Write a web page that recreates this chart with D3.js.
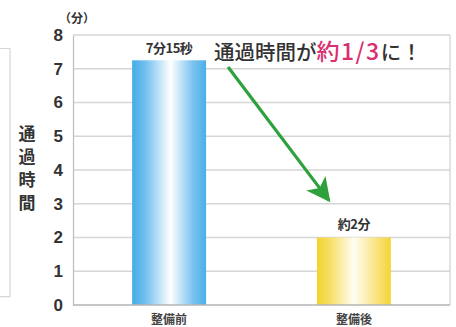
<!DOCTYPE html>
<html>
<head>
<meta charset="utf-8">
<script src="https://cdn.jsdelivr.net/npm/d3@7"></script>
<style>
  html, body { margin: 0; padding: 0; background: #fff; }
  svg { display: block; font-family: "Noto Sans CJK JP", "Noto Sans", sans-serif; }
</style>
</head>
<body>
<svg id="chart" width="456" height="327"></svg>
<script>
// Passage time before / after the improvement work (minutes)
const categories = ["整備前", "整備後"];
const values = [7.25, 2];
const valueLabels = ["7分15秒", "約2分"];
const yTicks = [0, 1, 2, 3, 4, 5, 6, 7, 8];
const yTitle = "通過時間";
const unitLabel = "（分）";
const headline = [
  { text: "通過時間が", color: "#333" },
  { text: "約1/3", color: "#d9306f" },
  { text: "に！", color: "#333" }
];

const svg = d3.select("#chart");
const m = { left: 73, right: 6, top: 35, bottom: 22 };
const W = 456, H = 327;

const x = d3.scaleBand().domain(categories)
  .range([m.left, W - m.right]).paddingInner(0.6).paddingOuter(0.32);
const y = d3.scaleLinear().domain([0, 8]).range([H - m.bottom, m.top]);

// gradients for the two bars
const defs = svg.append("defs");
const grads = [
  { id: "gBlue", stops: [["0%", "#45abe8"], ["18%", "#72c0ef"], ["52%", "#ffffff"], ["82%", "#7cc3f0"], ["100%", "#4aaee8"]] },
  { id: "gYellow", stops: [["0%", "#f4d32e"], ["18%", "#f7df66"], ["50%", "#fffdf2"], ["82%", "#f8e27a"], ["100%", "#f4d435"]] }
];
grads.forEach(g => {
  const lg = defs.append("linearGradient").attr("id", g.id)
    .attr("x1", "0%").attr("x2", "100%").attr("y1", "0%").attr("y2", "0%");
  g.stops.forEach(s => lg.append("stop").attr("offset", s[0]).attr("stop-color", s[1]));
});
const arrowMarker = defs.append("marker").attr("id", "arrowHead")
  .attr("viewBox", "0 0 10 10").attr("refX", 9).attr("refY", 5)
  .attr("markerUnits", "userSpaceOnUse")
  .attr("markerWidth", 28).attr("markerHeight", 24).attr("orient", "auto");
arrowMarker.append("path").attr("d", "M0,0 L10,5 L0,10 L2.5,5 Z").attr("fill", "#2ea03c");

// faint frame of a neighbouring panel on the left edge
svg.append("path")
  .attr("d", `M0,${y(7.6)} H10 V${y(0.25)} H0`)
  .attr("fill", "none").attr("stroke", "#d6d6d6").attr("stroke-width", 1.2);

// gridlines
svg.append("g").selectAll("line").data(yTicks.filter(d => d > 0)).join("line")
  .attr("x1", m.left).attr("x2", W - m.right)
  .attr("y1", d => y(d)).attr("y2", d => y(d))
  .attr("stroke", "#d6d6d6").attr("stroke-width", 1.5);

// right border
svg.append("line")
  .attr("x1", W - m.right).attr("x2", W - m.right)
  .attr("y1", y(8)).attr("y2", y(0))
  .attr("stroke", "#d0d0d0").attr("stroke-width", 1.2);

// y axis
const yAxis = svg.append("g").attr("transform", `translate(${m.left},0)`)
  .call(d3.axisLeft(y).tickValues(yTicks).tickSize(0).tickPadding(10));
yAxis.select(".domain").attr("stroke", "#bdbdbd").attr("stroke-width", 1.2);
yAxis.selectAll("text")
  .attr("font-size", 17).attr("font-weight", 700).attr("fill", "#333")
  .attr("font-family", "Liberation Sans, Arial, sans-serif");

// bars
svg.append("g").selectAll("rect").data(categories).join("rect")
  .attr("x", d => x(d)).attr("width", x.bandwidth())
  .attr("y", (d, i) => y(values[i]))
  .attr("height", (d, i) => y(0) - y(values[i]))
  .attr("fill", (d, i) => `url(#${grads[i].id})`);

// baseline
svg.append("line")
  .attr("x1", m.left).attr("x2", W - m.right)
  .attr("y1", y(0)).attr("y2", y(0))
  .attr("stroke", "#b5b5b5").attr("stroke-width", 1.4);

// x axis labels
svg.append("g").selectAll("text").data(categories).join("text")
  .attr("x", d => x(d) + x.bandwidth() / 2).attr("y", H - 3)
  .attr("text-anchor", "middle").attr("font-size", 12).attr("font-weight", 700)
  .attr("fill", "#444").text(d => d);

// value labels
svg.append("g").selectAll("text").data(categories).join("text")
  .attr("x", d => x(d) + x.bandwidth() / 2)
  .attr("y", (d, i) => y(values[i]) - (i === 0 ? 7 : 9))
  .attr("text-anchor", "middle").attr("font-size", 13).attr("font-weight", 700)
  .attr("fill", "#333").attr("letter-spacing", -0.5)
  .text((d, i) => valueLabels[i]);

// unit label
svg.append("text").attr("x", 59).attr("y", 23)
  .attr("font-size", 12).attr("font-weight", 700).attr("fill", "#333")
  .text(unitLabel);

// y axis title, vertical
svg.append("g").selectAll("text").data(Array.from(yTitle)).join("text")
  .attr("x", 27).attr("y", (d, i) => 140 + i * 23)
  .attr("text-anchor", "middle").attr("font-size", 17).attr("font-weight", 700)
  .attr("fill", "#333").text(d => d);

// headline
const hl = svg.append("text").attr("x", 214).attr("y", 60)
  .attr("font-size", 20.5).attr("font-weight", 500);
headline.forEach(p => hl.append("tspan").attr("fill", p.color).text(p.text));
hl.selectAll("tspan").filter((d, i) => i === 1).attr("font-size", 23).attr("letter-spacing", 1.5);

// arrow from before to after
const x0 = x(categories[0]) + x.bandwidth() + 22;
const x1 = x(categories[1]) + 12;
svg.append("line")
  .attr("x1", x0).attr("y1", y(7.05))
  .attr("x2", x1).attr("y2", y(3.1))
  .attr("stroke", "#2ea03c").attr("stroke-width", 3.2)
  .attr("marker-end", "url(#arrowHead)");
</script>
</body>
</html>
